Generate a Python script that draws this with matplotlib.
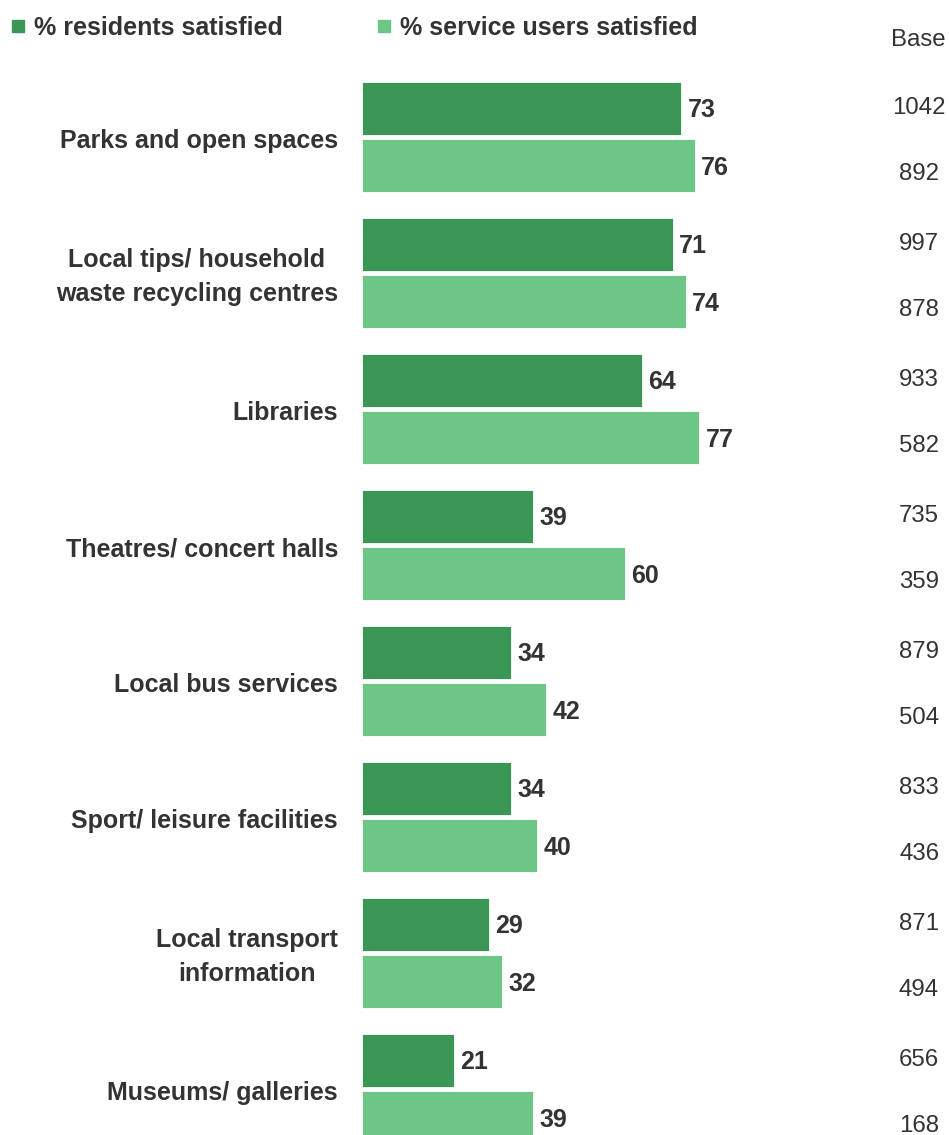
import matplotlib
matplotlib.use("Agg")
import matplotlib.pyplot as plt
from matplotlib.patches import Rectangle

plt.rcParams['font.family'] = ['Liberation Sans', 'DejaVu Sans']

categories = [
    "Parks and open spaces",
    "Local tips/ household\nwaste recycling centres",
    "Libraries",
    "Theatres/ concert halls",
    "Local bus services",
    "Sport/ leisure facilities",
    "Local transport\ninformation",
    "Museums/ galleries",
]
residents = [73, 71, 64, 39, 34, 34, 29, 21]
users = [76, 74, 77, 60, 42, 40, 32, 39]
base_residents = [1042, 997, 933, 735, 879, 833, 871, 656]
base_users = [892, 878, 582, 359, 504, 436, 494, 168]
series_labels = ["% residents satisfied", "% service users satisfied"]

DARK = "#3c9656"
LIGHT = "#6dc686"
TEXT = "#333333"

W, H = 949, 1135
fig = plt.figure(figsize=(W / 100, H / 100), dpi=100)
ax = fig.add_axes([362 / W, 0, 437.5 / W, 1])
ax.set_xlim(0, 100)
top = -137 / 136
ax.set_ylim(top + H / 136, top)
ax.axis("off")

bh = 0.395
off = 0.21
dy = 2 / 136  # nudge text down to its visual centre
for i, (r, u) in enumerate(zip(residents, users)):
    ax.barh(i - off, r, height=bh, color=DARK, edgecolor="white", linewidth=0.6)
    ax.barh(i + off, u, height=bh, color=LIGHT, edgecolor="white", linewidth=0.6)
    ax.text(r + 1.5, i - off + dy, f"{r}", va="center", ha="left",
            fontsize=18, fontweight="bold", color=TEXT)
    ax.text(u + 1.5, i + off + dy, f"{u}", va="center", ha="left",
            fontsize=18, fontweight="bold", color=TEXT)
    ax.text(-5.5, i + 2 * dy, categories[i], va="center", ha="right",
            multialignment="center", fontsize=18, fontweight="bold",
            color=TEXT, linespacing=1.5)
    fig.text(919 / W, 1 - (137 + 136 * i - 29) / H, f"{base_residents[i]}",
             ha="center", va="center", fontsize=17.3, color=TEXT)
    fig.text(919 / W, 1 - (137 + 136 * i + 37) / H, f"{base_users[i]}",
             ha="center", va="center", fontsize=17.3, color=TEXT)

fig.text(918 / W, 1 - 40 / H, "Base", ha="center", va="center", fontsize=17.3, color=TEXT)

# legend
for x0, col, lab in [(12, DARK, series_labels[0]), (378, LIGHT, series_labels[1])]:
    fig.patches.append(Rectangle((x0 / W, 1 - 32 / H), 12 / W, 12 / H,
                                 transform=fig.transFigure, color=col))
    fig.text((x0 + 22) / W, 1 - 28 / H, lab, ha="left", va="center",
             fontsize=18, fontweight="bold", color=TEXT)

fig.savefig("out.png", dpi=100, facecolor="white")
